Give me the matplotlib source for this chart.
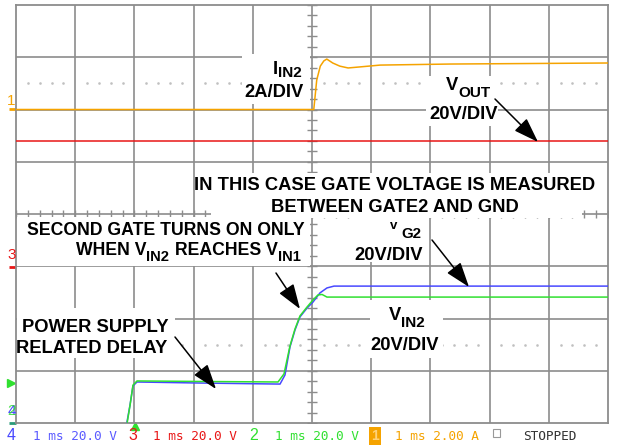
import numpy as np
import matplotlib
matplotlib.use('Agg')
from matplotlib import pyplot as plt
from matplotlib.patches import Rectangle

#
# Values (time in ms, 1 ms/div, 10 div)
#
t_iin2 = [0.0, 5.03, 5.08, 5.14, 5.20, 5.25, 5.35, 5.47, 5.61, 5.81, 6.15, 7.33, 10.0]
iin2 = [0.0, 0.0, 1.13, 1.66, 1.86, 1.93, 1.78, 1.66, 1.59, 1.63, 1.70, 1.74, 1.78]   # A

t_vout = [0.0, 10.0]
vout = [47.8, 47.8]   # V

t_vg2 = [1.875, 1.926, 1.976, 2.044, 3.108, 4.46, 4.544, 4.628, 4.713, 4.797,
         4.916, 5.017, 5.135, 5.253, 5.372, 10.0]
vg2 = [0.4, 6.9, 14.2, 15.7, 15.3, 14.9, 18.4, 29.1, 35.6, 40.6,
       44.0, 46.3, 49.8, 51.7, 52.4, 52.4]   # V

t_vin2 = [1.88, 1.93, 1.976, 2.044, 3.108, 4.426, 4.527, 4.628, 4.713, 4.797,
          4.916, 5.017, 5.10, 5.17, 5.253, 10.0]
vin2 = [0.4, 7.3, 14.5, 16.1, 15.9, 15.7, 18.8, 29.5, 36.0, 41.0,
        44.4, 47.1, 49.0, 49.2, 48.2, 48.2]   # V

# channel settings: (ground offset in divisions, units per division)
ch1 = (6.0, 2.0)
ch3 = (3.0, 20.0)
ch2 = (0.0, 20.0)
ch4 = (0.0, 20.0)

status_texts = ['1 ms 20.0 V', '1 ms 20.0 V', '1 ms 20.0 V', '1 ms 2.00 A']

ORANGE = '#f5a300'
RED = '#e81616'
BLUE = '#4848ff'
GREEN = '#30e030'
GRID = '#8c8c8c'

W, H = 621, 445
plt.rcParams['font.family'] = 'Liberation Sans'

fig = plt.figure(figsize=(W / 100, H / 100), dpi=100)
ax = fig.add_axes([16 / W, 22 / H, 592 / W, 418 / H])
ax.set_xlim(0, 10)
ax.set_ylim(0, 8)
ax.set_xticks([])
ax.set_yticks([])
for s in ax.spines.values():
    s.set_color(GRID)
    s.set_linewidth(1.3)


def to_div(vals, ch):
    return ch[0] + np.asarray(vals) / ch[1]


def axf(x, y):
    # screen pixel -> axes fraction
    return ((x - 16) / 592, (423 - y) / 418)


def figf(x, y):
    return (x / W, 1 - y / H)


# graticule
for i in range(1, 10):
    ax.axvline(i, color=GRID, lw=1.2, zorder=1)
for j in range(1, 8):
    ax.axhline(j, color=GRID, lw=1.2, zorder=1)

minor = np.arange(0, 10.01, 0.2)
ax.plot(np.full(41, 5.0), np.arange(0, 8.01, 0.2), ls='none', marker='_',
        ms=6.5, mew=1.0, color=GRID, zorder=1)
ax.plot(minor, np.full(len(minor), 4.0), ls='none', marker='|',
        ms=6, mew=1.0, color=GRID, zorder=1)
dots = [v for v in minor if abs(v - round(v)) > 0.05]
for yy in (6.5, 1.5):
    ax.plot(dots, np.full(len(dots), yy), ls='none', marker='s', ms=0.8,
            color='#c0c0c0', zorder=1)

# white boxes behind the annotations
masks = [(242, 54, 310, 104), (426, 76, 498, 126), (211, 173, 582, 218),
         (17, 217, 310, 266), (350, 212, 428, 262), (370, 300, 443, 358),
         (17, 308, 175, 358)]
for x0, y0, x1, y1 in masks:
    a0 = axf(x0, y1)
    a1 = axf(x1, y0)
    ax.add_patch(Rectangle(a0, a1[0] - a0[0], a1[1] - a0[1], transform=ax.transAxes,
                           facecolor='white', edgecolor='none', zorder=2))

# traces
lw = 1.1
ax.plot(t_iin2, to_div(iin2, ch1), color=ORANGE, lw=lw, zorder=3)
ax.plot(t_vout, to_div(vout, ch3), color=RED, lw=1.1, zorder=3)
ax.plot(t_vg2, to_div(vg2, ch4), color=BLUE, lw=lw, zorder=3)
ax.plot(t_vin2, to_div(vin2, ch2), color=GREEN, lw=lw, zorder=3)

# annotation text
FS = 13.2
SUB = 11.0


def label(x, y, s, ha='left', size=FS):
    p = figf(x, y)
    fig.text(p[0], p[1], s, ha=ha, va='baseline', fontsize=size,
             fontweight='bold', color='black', zorder=5)


def arrow(x0, y0, x1, y1):
    ax.annotate('', xy=(x1, H - y1), xytext=(x0, H - y0), xycoords='figure pixels',
                textcoords='figure pixels', zorder=6,
                arrowprops=dict(arrowstyle='-|>,head_length=1.1,head_width=0.38',
                                mutation_scale=14, color='black', lw=1.1,
                                shrinkA=0, shrinkB=0))


# I_IN2, 2A/DIV
label(278, 74, 'I', ha='right')
label(278, 77, 'IN2', size=SUB)
label(304, 97, '2A/DIV', ha='right')
# V_OUT, 20V/DIV
label(458, 90, 'V', ha='right')
label(458, 97, 'OUT', size=SUB)
label(464, 119, '20V/DIV', ha='center')
# gate note
label(395, 190, 'IN THIS CASE GATE VOLTAGE IS MEASURED', ha='center')
label(395, 212, 'BETWEEN GATE2 AND GND', ha='center')
# second gate note
label(305, 235, 'SECOND GATE TURNS ON ONLY', ha='right', size=12.7)
label(146, 255, 'WHEN V', ha='right', size=12.7)
label(146, 261, 'IN2', size=10.6)
label(278, 255, 'REACHES V', ha='right', size=12.7)
label(278, 261, 'IN1', size=10.6)
# V_G2
label(390, 229, 'v', size=9.5)
label(401, 238, 'G2', size=10.8)
label(389, 260, '20V/DIV', ha='center')
# V_IN2
label(401, 320, 'V', ha='right')
label(401, 327, 'IN2', size=SUB)
label(405, 350, '20V/DIV', ha='center')
# delay note
label(95, 332, 'POWER SUPPLY', ha='center')
label(92, 353, 'RELATED DELAY', ha='center')

arrow(495, 99, 538, 142)
arrow(276, 273, 300, 309)
arrow(432, 240, 469, 287)
arrow(175, 337, 216, 389)

# channel markers at the left edge
small = dict(fontsize=11, va='center', ha='center')
p = figf(11.5, 101)
fig.text(p[0], p[1], '1', color=ORANGE, **small)
p = figf(12, 255)
fig.text(p[0], p[1], '3', color=RED, **small)
p = figf(12, 411)
fig.text(p[0], p[1], '4', color=BLUE, **small)
fig.text(p[0], p[1], '2', color=GREEN, alpha=0.85, **small)
for yy, c in ((109, ORANGE), (267, RED), (423, '#2a9a7a')):
    a = axf(9, yy)
    b = axf(16, yy)
    ax.plot([a[0], b[0]], [a[1], b[1]], color=c, lw=2, transform=ax.transAxes,
            clip_on=False, solid_capstyle='butt')
a = axf(11, 383)
ax.plot([a[0]], [a[1]], marker='>', ms=6, color=GREEN, transform=ax.transAxes,
        clip_on=False)
a = axf(134.5, 426)
ax.plot([a[0]], [a[1]], marker='^', ms=5.5, color=GREEN, transform=ax.transAxes,
        clip_on=False)

# status line
mono = dict(fontsize=9.2, family='DejaVu Sans Mono', va='center', ha='left')
ys = 436
for x, num, c in ((11, '4', BLUE), (133, '3', RED), (254, '2', GREEN)):
    p = figf(x, ys)
    fig.text(p[0], p[1], num, color=c, fontsize=11.5, va='center', ha='center')
p = figf(375, ys)
fig.text(p[0], p[1], '1', color='#ffd27a', fontsize=10, va='center', ha='center',
         fontweight='bold', bbox=dict(boxstyle='square,pad=0.12', fc=ORANGE, ec='none'))
for x, s, c in ((33, status_texts[0], '#5a5aff'), (153, status_texts[1], RED),
                (275, status_texts[2], GREEN), (395, status_texts[3], ORANGE)):
    p = figf(x, ys)
    fig.text(p[0], p[1], s, color=c, **mono)
fig.add_artist(Rectangle((493 / W, 1 - 437 / H), 7 / W, 8 / H, transform=fig.transFigure,
                         facecolor='none', edgecolor='#999999', lw=0.8))
p = figf(523, ys)
fig.text(p[0], p[1], 'STOPPED', color='#333333', **mono)

fig.savefig('out.png', dpi=100)
